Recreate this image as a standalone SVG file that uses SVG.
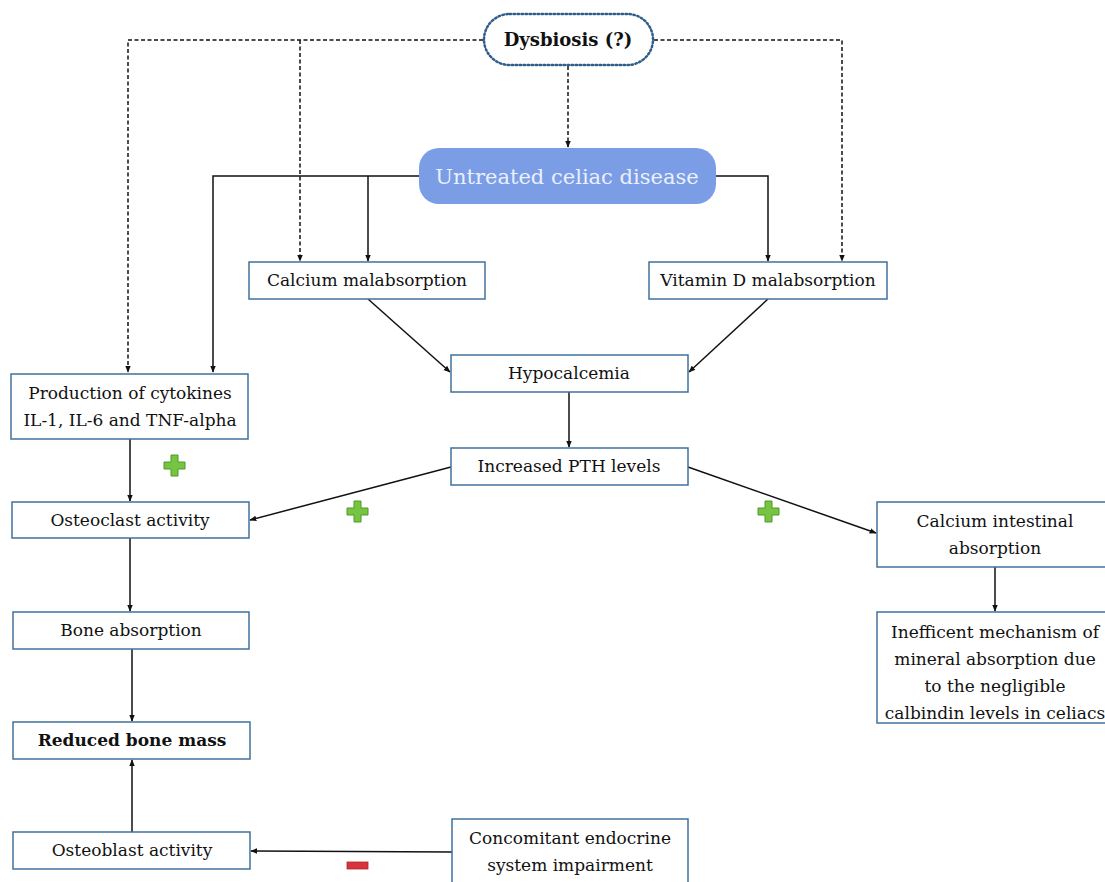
<svg xmlns="http://www.w3.org/2000/svg" width="1105" height="882" viewBox="0 0 1105 882">
<style>
.box{fill:#fff;stroke:#41719c;stroke-width:1.5}
.t{font-family:"DejaVu Serif","Liberation Serif",serif;font-size:17px;fill:#111;text-anchor:middle}
.b{font-weight:bold}
.s{fill:none;stroke:#111;stroke-width:1.5}
.d{fill:none;stroke:#111;stroke-width:1.5;stroke-dasharray:4 2.5}
.plus{fill:#76c442;stroke:#4e9a2a;stroke-width:1}
</style>
<defs>
<marker id="ah" viewBox="0 0 10 10" refX="9" refY="5" markerWidth="7" markerHeight="7" orient="auto" markerUnits="userSpaceOnUse">
<path d="M0,1 L10,5 L0,9 z" fill="#111"/>
</marker>
</defs>
<rect width="1105" height="882" fill="#fff"/>

<g id="connectors">
<polyline class="d" points="483,40 128,40 128,372" marker-end="url(#ah)"/>
<polyline class="d" points="300,40 300,261" marker-end="url(#ah)"/>
<polyline class="d" points="654,40 842,40 842,261" marker-end="url(#ah)"/>
<polyline class="d" points="568,66 568,147" marker-end="url(#ah)"/>
<polyline class="s" points="419,176 213,176 213,372" marker-end="url(#ah)"/>
<polyline class="s" points="368,176 368,261" marker-end="url(#ah)"/>
<polyline class="s" points="716,176 768,176 768,261" marker-end="url(#ah)"/>
<line class="s" x1="368" y1="299" x2="450" y2="372" marker-end="url(#ah)"/>
<line class="s" x1="768" y1="299" x2="689" y2="372" marker-end="url(#ah)"/>
<line class="s" x1="569" y1="392" x2="569" y2="447" marker-end="url(#ah)"/>
<line class="s" x1="451" y1="467" x2="250" y2="520" marker-end="url(#ah)"/>
<line class="s" x1="688" y1="467" x2="876" y2="533" marker-end="url(#ah)"/>
<line class="s" x1="130" y1="439" x2="130" y2="501" marker-end="url(#ah)"/>
<line class="s" x1="130" y1="538" x2="130" y2="611" marker-end="url(#ah)"/>
<line class="s" x1="132" y1="649" x2="132" y2="721" marker-end="url(#ah)"/>
<line class="s" x1="132" y1="832" x2="132" y2="760" marker-end="url(#ah)"/>
<line class="s" x1="452" y1="852" x2="251" y2="851" marker-end="url(#ah)"/>
<line class="s" x1="995" y1="567" x2="995" y2="611" marker-end="url(#ah)"/>
</g>

<g id="dysbiosis">
<rect x="484" y="14" width="169" height="51" rx="25.5" fill="#fff" stroke="#2f5f8a" stroke-width="2.5" stroke-dasharray="1.5 2.5" stroke-linecap="round"/>
<text class="t b" x="568" y="46" style="font-size:18px">Dysbiosis (?)</text>
</g>

<g id="untreated">
<rect x="419" y="148" width="297" height="56" rx="20" fill="#7b9de6"/>
<text class="t" x="567" y="184" style="font-size:21px;fill:#eaf0fc">Untreated celiac disease</text>
</g>

<g id="calcium-malabsorption">
<rect class="box" x="249" y="262" width="236" height="37"/>
<text class="t" x="367" y="286">Calcium malabsorption</text>
</g>

<g id="vitamin-d-malabsorption">
<rect class="box" x="649" y="262" width="238" height="37"/>
<text class="t" x="768" y="286">Vitamin D malabsorption</text>
</g>

<g id="cytokines">
<rect class="box" x="11" y="374" width="237" height="65"/>
<text class="t" x="130" y="399">Production of cytokines</text>
<text class="t" x="130" y="426">IL-1, IL-6 and TNF-alpha</text>
</g>

<g id="hypocalcemia">
<rect class="box" x="451" y="355" width="237" height="37"/>
<text class="t" x="569" y="379">Hypocalcemia</text>
</g>

<g id="pth">
<rect class="box" x="451" y="448" width="237" height="37"/>
<text class="t" x="569" y="472">Increased PTH levels</text>
</g>

<g id="osteoclast">
<rect class="box" x="12" y="502" width="237" height="36"/>
<text class="t" x="130" y="526">Osteoclast activity</text>
</g>

<g id="calcium-intestinal">
<rect class="box" x="877" y="502" width="237" height="65"/>
<text class="t" x="995" y="527">Calcium intestinal</text>
<text class="t" x="995" y="554">absorption</text>
</g>

<g id="bone-absorption">
<rect class="box" x="13" y="612" width="236" height="37"/>
<text class="t" x="131" y="636">Bone absorption</text>
</g>

<g id="inefficient">
<rect class="box" x="877" y="612" width="237" height="111"/>
<text class="t" x="995" y="638">Inefficent mechanism of</text>
<text class="t" x="995" y="665">mineral absorption  due</text>
<text class="t" x="995" y="692">to the negligible</text>
<text class="t" x="995" y="719">calbindin levels in celiacs</text>
</g>

<g id="reduced-bone-mass">
<rect class="box" x="13" y="722" width="237" height="37"/>
<text class="t b" x="132" y="746">Reduced bone mass</text>
</g>

<g id="osteoblast">
<rect class="box" x="13" y="832" width="237" height="37"/>
<text class="t" x="132" y="856">Osteoblast activity</text>
</g>

<g id="concomitant">
<rect class="box" x="452" y="819" width="236" height="70"/>
<text class="t" x="570" y="844">Concomitant endocrine</text>
<text class="t" x="570" y="871">system impairment</text>
</g>

<g id="signs">
<path class="plus" d="M171,455 h7 v7 h7 v7 h-7 v7 h-7 v-7 h-7 v-7 h7 z"/>
<path class="plus" d="M354,501 h7 v7 h7 v7 h-7 v7 h-7 v-7 h-7 v-7 h7 z"/>
<path class="plus" d="M765,501 h7 v7 h7 v7 h-7 v7 h-7 v-7 h-7 v-7 h7 z"/>
<rect x="347" y="862" width="21" height="7" fill="#d9343a" stroke="#b02a2e" stroke-width="0.8"/>
</g>
</svg>
